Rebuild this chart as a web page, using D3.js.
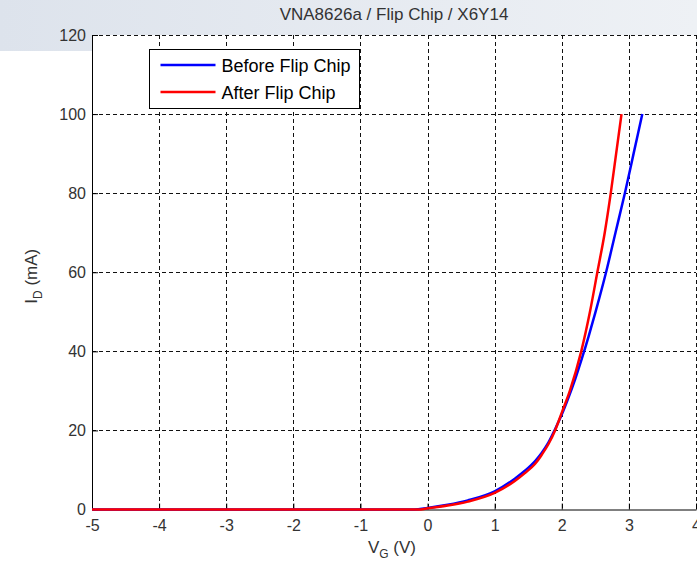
<!DOCTYPE html>
<html>
<head>
<meta charset="utf-8">
<script src="https://cdn.jsdelivr.net/npm/d3@7"></script>
<style>
  body { margin: 0; background: #fff; }
  svg { display: block; font-family: "Liberation Sans", Arial, sans-serif; }
</style>
</head>
<body>
<div id="chart"></div>
<script>
// gate voltage sweep, drain current in mA
let beforeV = [-5, -0.2, 0, 0.3, 0.6, 1.0, 1.3, 1.45, 1.6, 1.7, 1.8, 1.9, 2.0, 2.1, 2.2, 2.3, 2.4, 2.5, 2.66, 2.8, 2.94, 3.07, 3.2];
let beforeI = [0, 0, 0.4, 1.2, 2.3, 4.6, 7.8, 9.8, 12.2, 14.3, 16.9, 20.3, 24, 28.3, 33, 38.2, 43.8, 49.8, 60, 70, 80, 90, 100];
let afterV = [-5, -0.1, 0, 0.3, 0.6, 1.0, 1.3, 1.45, 1.6, 1.7, 1.8, 1.9, 2.0, 2.12, 2.29, 2.42, 2.53, 2.64, 2.73, 2.81, 2.89];
let afterI = [0, 0, 0.3, 1.0, 2.0, 4.2, 7.2, 9.2, 11.5, 13.8, 16.5, 20, 24.5, 30, 40, 50, 60, 70, 80, 90, 100];
let xTicks = [-5, -4, -3, -2, -1, 0, 1, 2, 3, 4];
let yTicks = [0, 20, 40, 60, 80, 100, 120];
let seriesNames = ["Before Flip Chip", "After Flip Chip"];

let W = 697, H = 569;
let margin = {left: 92, top: 35, right: 1, bottom: 59.5};
let pw = W - margin.left - margin.right, ph = H - margin.top - margin.bottom;

let svg = d3.select("#chart").append("svg")
    .attr("width", W)
    .attr("height", H);

// window header band
let grad = svg.append("defs").append("linearGradient")
    .attr("id", "hdr").attr("x1", "0%").attr("x2", "100%");
grad.append("stop").attr("offset", "0%").attr("stop-color", "#dde3ec");
grad.append("stop").attr("offset", "100%").attr("stop-color", "#eef1f5");
svg.append("rect").attr("width", W).attr("height", 51).attr("fill", "url(#hdr)");

let g = svg.append("g").attr("transform", `translate(${margin.left},${margin.top})`);
g.append("rect").attr("width", pw).attr("height", ph).attr("fill", "#fff");

let x = d3.scaleLinear().domain([-5, 4]).range([0, pw]);
let y = d3.scaleLinear().domain([0, 120]).range([ph, 0]);

// dashed grid
g.append("g").selectAll("line").data(xTicks.filter(d => d > -5)).enter()
    .append("line")
    .attr("x1", d => Math.round(x(d)) + 0.5).attr("x2", d => Math.round(x(d)) + 0.5)
    .attr("y1", 0).attr("y2", ph)
    .attr("stroke", "#111").attr("stroke-dasharray", "4,3");
g.append("g").selectAll("line").data(yTicks.filter(d => d > 0)).enter()
    .append("line")
    .attr("y1", d => Math.round(y(d)) + 0.5).attr("y2", d => Math.round(y(d)) + 0.5)
    .attr("x1", 0).attr("x2", pw)
    .attr("stroke", "#111").attr("stroke-dasharray", "4,3");

let fmt = d => String(d);
let xAxis = g.append("g").attr("transform", `translate(0,${ph})`)
    .call(d3.axisBottom(x).tickValues(xTicks).tickFormat(fmt).tickSizeInner(-6).tickSizeOuter(0).tickPadding(10.5));
let yAxis = g.append("g")
    .call(d3.axisLeft(y).tickValues(yTicks).tickFormat(fmt).tickSizeInner(-6).tickSizeOuter(0).tickPadding(6));
[xAxis, yAxis].forEach(a => {
    a.selectAll("text").attr("font-size", 16).attr("fill", "#333").attr("font-family", null);
    a.selectAll("line").attr("stroke", "#000");
    a.select(".domain").attr("stroke", "#000");
});

let line = d3.line().x(d => x(d[0])).y(d => y(d[1])).curve(d3.curveMonotoneX);
let before = beforeV.map((v, i) => [v, beforeI[i]]);
let after = afterV.map((v, i) => [v, afterI[i]]);

g.append("path").datum(before).attr("d", line)
    .attr("fill", "none").attr("stroke", "#0000ff").attr("stroke-width", 2.5);
g.append("path").datum(after).attr("d", line)
    .attr("fill", "none").attr("stroke", "#ff0000").attr("stroke-width", 2.5);

// title and labels
svg.append("text")
    .attr("x", margin.left + pw / 2).attr("y", 20)
    .attr("text-anchor", "middle").attr("font-size", 17).attr("fill", "#333")
    .text("VNA8626a / Flip Chip / X6Y14");

let xl = svg.append("text")
    .attr("x", margin.left + pw / 2 - 2).attr("y", 553)
    .attr("text-anchor", "middle").attr("font-size", 17).attr("fill", "#333");
xl.append("tspan").text("V");
xl.append("tspan").attr("font-size", 12).attr("dy", 5).text("G");
xl.append("tspan").attr("dy", -5).text(" (V)");

let yl = svg.append("text")
    .attr("transform", `translate(37,${margin.top + ph / 2 + 4}) rotate(-90)`)
    .attr("text-anchor", "middle").attr("font-size", 17).attr("fill", "#333");
yl.append("tspan").text("I");
yl.append("tspan").attr("font-size", 12).attr("dy", 5).text("D");
yl.append("tspan").attr("dy", -5).text(" (mA)");

// legend
let leg = svg.append("g").attr("transform", "translate(149.5,49.5)");
leg.append("rect").attr("width", 210).attr("height", 59)
    .attr("fill", "#fff").attr("stroke", "#000");
let colors = ["#0000ff", "#ff0000"];
seriesNames.forEach((name, i) => {
    let ly = 15.5 + i * 27;
    leg.append("line").attr("x1", 11).attr("x2", 66).attr("y1", ly).attr("y2", ly)
        .attr("stroke", colors[i]).attr("stroke-width", 2.5);
    leg.append("text").attr("x", 72).attr("y", ly + 7).attr("font-size", 18).attr("fill", "#000")
        .text(name);
});
</script>
</body>
</html>
